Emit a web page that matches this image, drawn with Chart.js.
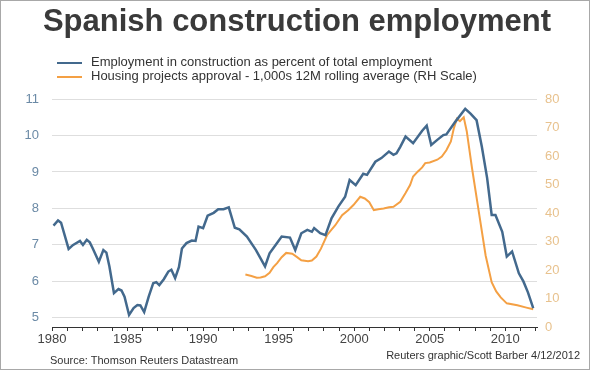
<!DOCTYPE html>
<html>
<head>
<meta charset="utf-8">
<script src="https://cdn.jsdelivr.net/npm/chart.js@4.4.1/dist/chart.umd.min.js"></script>
<style>
  body { margin: 0; background: #fff; font-family: "Liberation Sans", Arial, sans-serif; }
  #wrap { position: relative; width: 590px; height: 370px; overflow: hidden; background: #fff; }
  #frame { position: absolute; left: 0; top: 0; width: 588px; height: 368px; border: 1px solid #a8a8a8; pointer-events: none; }
  canvas { position: absolute; left: 0; top: 0; }
  #title { position: absolute; left: 0; top: 3px; width: 594px; text-align: center; font-weight: bold; font-size: 31px; color: #3a3a3a; }
  .leg { position: absolute; left: 57px; font-size: 13px; color: #333; white-space: nowrap; }
  .leg i { display: inline-block; width: 25px; height: 2px; vertical-align: middle; margin-right: 9px; }
  .foot { position: absolute; font-size: 11px; color: #333; white-space: nowrap; }
</style>
</head>
<body>
<div id="wrap">
  <canvas id="chart" width="590" height="370"></canvas>
  <div id="title">Spanish construction employment</div>
  <div class="leg" style="top:54px"><i style="background:#43698d"></i>Employment in construction as percent of total employment</div>
  <div class="leg" style="top:68px"><i style="background:#f4a044"></i>Housing projects approval - 1,000s 12M rolling average (RH Scale)</div>
  <div class="foot" style="left:50px; top:354px">Source: Thomson Reuters Datastream</div>
  <div class="foot" style="right:10px; top:349px">Reuters graphic/Scott Barber 4/12/2012</div>
  <div id="frame"></div>
</div>
<script>
// employment in construction, % of total (left scale)
const empYears = [1980.1, 1980.4, 1980.6, 1981.1, 1981.4, 1981.85, 1982.05, 1982.3, 1982.5, 1982.7,
  1983.1, 1983.4, 1983.6, 1983.8, 1984.1, 1984.4, 1984.6, 1984.8, 1985.1, 1985.4,
  1985.65, 1985.85, 1986.1, 1986.4, 1986.7, 1986.9, 1987.1, 1987.4, 1987.7, 1987.9,
  1988.15, 1988.4, 1988.6, 1988.9, 1989.25, 1989.5, 1989.7, 1990.0, 1990.3, 1990.7,
  1991.0, 1991.35, 1991.7, 1992.1, 1992.4, 1992.9, 1993.5, 1994.1, 1994.4, 1994.8,
  1995.2, 1995.75, 1996.1, 1996.5, 1996.9, 1997.2, 1997.35, 1997.75, 1998.1, 1998.5,
  1998.95, 1999.4, 1999.7, 2000.1, 2000.6, 2000.85, 2001.4, 2001.8, 2002.3, 2002.6,
  2002.8, 2003.05, 2003.4, 2003.9, 2004.5, 2004.8, 2005.1, 2005.5, 2005.9, 2006.1,
  2006.7, 2007.35, 2007.7, 2008.1, 2008.45, 2008.8, 2009.1, 2009.35, 2009.8, 2010.1,
  2010.45, 2010.9, 2011.2, 2011.5, 2011.85];
const empValues = [7.53, 7.67, 7.61, 6.89, 7.0, 7.11, 7.0, 7.14, 7.07, 6.9,
  6.54, 6.86, 6.79, 6.41, 5.68, 5.79, 5.75, 5.58, 5.08, 5.27,
  5.35, 5.34, 5.16, 5.58, 5.95, 5.98, 5.9, 6.06, 6.27, 6.32,
  6.09, 6.39, 6.9, 7.05, 7.12, 7.11, 7.5, 7.46, 7.8, 7.88,
  7.98, 7.98, 8.03, 7.47, 7.43, 7.23, 6.86, 6.41, 6.77, 7.0,
  7.23, 7.2, 6.86, 7.32, 7.41, 7.36, 7.46, 7.32, 7.27, 7.73,
  8.05, 8.32, 8.78, 8.64, 8.95, 8.92, 9.28, 9.38, 9.56, 9.47,
  9.51, 9.69, 9.97, 9.79, 10.13, 10.27, 9.74, 9.88, 10.01, 10.03,
  10.38, 10.73, 10.6, 10.42, 9.69, 8.83, 7.82, 7.82, 7.36, 6.68,
  6.82, 6.22, 6.0, 5.7, 5.27];

// housing projects approval, 1,000s, 12M rolling avg (right scale)
const houseYears = [1992.8, 1993.2, 1993.55, 1993.8, 1994.1, 1994.4, 1994.65, 1994.9, 1995.2, 1995.5,
  1995.9, 1996.2, 1996.5, 1996.95, 1997.2, 1997.5, 1997.8, 1998.2, 1998.5, 1998.75,
  1999.2, 1999.6, 1999.95, 2000.4, 2000.7, 2001.0, 2001.3, 2001.6, 2001.95, 2002.3,
  2002.6, 2003.05, 2003.4, 2003.7, 2003.9, 2004.2, 2004.5, 2004.7, 2005.0, 2005.5,
  2005.8, 2006.1, 2006.4, 2006.6, 2006.8, 2007.0, 2007.25, 2007.45, 2007.8, 2008.25,
  2008.7, 2009.1, 2009.4, 2009.7, 2010.1, 2010.8, 2011.4, 2011.85];
const houseValues = [18.4, 17.9, 17.3, 17.4, 17.8, 19.0, 21.0, 22.4, 24.5, 26.0,
  25.7, 24.6, 23.4, 23.1, 23.3, 24.7, 27.5, 32.2, 34.2, 35.7,
  39.2, 41.0, 42.8, 45.7, 45.1, 43.8, 41.0, 41.3, 41.6, 42.0,
  42.2, 43.9, 47.0, 49.8, 52.8, 54.5, 56.0, 57.5, 57.7, 58.7,
  59.8, 62.0, 65.1, 69.8, 73.1, 72.2, 73.6, 68.7, 55.7, 40.4,
  25.1, 15.7, 12.5, 10.4, 8.3, 7.6, 6.8, 6.2];

// tick labels
const yearTicks = [];
for (let y = 1980; y <= 2012; y++) yearTicks.push(y);
const leftTicks = [5, 6, 7, 8, 9, 10, 11];
const rightTicks = [0, 10, 20, 30, 40, 50, 60, 70, 80];

const toPoints = (xs, ys) => xs.map((x, i) => ({ x: x, y: ys[i] }));

const ctx = document.getElementById("chart").getContext("2d");
new Chart(ctx, {
  type: "line",
  data: {
    datasets: [{
      label: "Employment in construction as percent of total employment",
      data: toPoints(empYears, empValues),
      borderColor: "#43698d",
      borderWidth: 2.5,
      pointRadius: 0,
      yAxisID: "y"
    }, {
      label: "Housing projects approval - 1,000s 12M rolling average (RH Scale)",
      data: toPoints(houseYears, houseValues),
      borderColor: "#f4a044",
      borderWidth: 2,
      pointRadius: 0,
      yAxisID: "y1"
    }]
  },
  options: {
    responsive: false,
    animation: false,
    layout: { padding: { top: 99, left: 0, right: 0, bottom: 0 } },
    plugins: { legend: { display: false }, tooltip: { enabled: false } },
    scales: {
      x: {
        type: "linear",
        min: 1980,
        max: 2012.1,
        afterBuildTicks: s => { s.ticks = yearTicks.map(v => ({ value: v })); },
        afterFit: s => { s.height = 43; },
        ticks: {
          autoSkip: false,
          maxRotation: 0,
          padding: 1,
          color: "#444",
          font: { family: "Liberation Sans", size: 13 },
          callback: v => (v % 5 === 0 ? String(v) : "")
        },
        grid: { drawOnChartArea: false, drawTicks: true, tickLength: 4, color: "#333" },
        border: { color: "#333", width: 1 }
      },
      y: {
        position: "left",
        min: 4.75,
        max: 11,
        afterBuildTicks: s => { s.ticks = leftTicks.map(v => ({ value: v })); },
        afterFit: s => { s.width = 52; },
        ticks: { color: "#6b8aa6", padding: 13, font: { family: "Liberation Sans", size: 13 } },
        grid: { color: "#dedede", drawTicks: false },
        border: { display: false }
      },
      y1: {
        position: "right",
        min: 0,
        max: 80,
        afterBuildTicks: s => { s.ticks = rightTicks.map(v => ({ value: v })); },
        afterFit: s => { s.width = 53; },
        ticks: { color: "#e8c28e", padding: 8, font: { family: "Liberation Sans", size: 13 } },
        grid: { drawOnChartArea: false, drawTicks: false },
        border: { display: false }
      }
    }
  }
});
</script>
</body>
</html>
